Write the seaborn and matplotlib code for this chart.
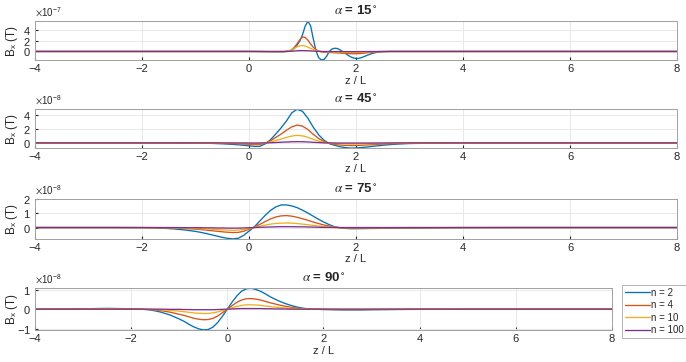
import numpy as np
import pandas as pd
import matplotlib
matplotlib.use("Agg")
import matplotlib.pyplot as plt
import seaborn as sns

# ---- data ----
labels = ["n = 2", "n = 4", "n = 10", "n = 100"]
colors = ["#0072BD", "#D95319", "#EDB120", "#7E2F8E"]
angles = ["15", "45", "75", "90"]
x_ticks = [-4, -2, 0, 2, 4, 6, 8]

# alpha = 15 deg, values x 1e-7
z1 = [-4, -2, 0, 0.2, 0.4,
      0.5, 0.55, 0.6, 0.65, 0.7, 0.75, 0.8, 0.85, 0.9, 0.95,
      1.0, 1.05, 1.1, 1.15, 1.2, 1.25, 1.3, 1.35, 1.4, 1.45,
      1.5, 1.55, 1.6, 1.65, 1.7, 1.75, 1.8, 1.85, 1.9, 1.95,
      2.0, 2.05, 2.1, 2.15, 2.2, 2.25, 2.3, 2.35, 2.4, 2.45,
      2.5, 2.55, 2.6, 2.65, 2.7, 3, 4, 8]
a15_n2 = [0, 0, 0, -0.02, -0.05,
          -0.06, -0.06, -0.06, -0.05, -0.02, 0.05, 0.2, 0.6, 1.2, 1.95,
          3.1, 4.7, 5.6, 4.8, 2.4, 0.2, -1.15, -1.55, -1.5, -0.9,
          0.0, 0.45, 0.6, 0.55, 0.3, 0.0, -0.35, -0.7, -1.0, -1.2,
          -1.3, -1.28, -1.15, -0.95, -0.75, -0.55, -0.38, -0.25, -0.15, -0.08,
          -0.04, -0.02, -0.01, 0, 0, 0, 0, 0]
a15_n4 = [0, 0, 0, -0.01, -0.03,
          -0.03, -0.03, -0.02, -0.01, 0.02, 0.1, 0.35, 0.8, 1.45, 2.2,
          2.7, 2.6, 2.1, 1.4, 0.8, 0.35, 0.08, -0.08, -0.15, -0.18,
          -0.2, -0.22, -0.24, -0.27, -0.3, -0.33, -0.36, -0.39, -0.41, -0.42,
          -0.42, -0.4, -0.36, -0.31, -0.26, -0.21, -0.16, -0.12, -0.08, -0.05,
          -0.03, -0.02, -0.01, 0, 0, 0, 0, 0]
a15_n10 = [0, 0, 0, 0, -0.01,
           -0.01, -0.01, -0.01, 0, 0.03, 0.1, 0.3, 0.58, 0.88, 1.06,
           1.1, 1.0, 0.8, 0.56, 0.36, 0.19, 0.07, -0.01, -0.06, -0.09,
           -0.11, -0.13, -0.14, -0.15, -0.16, -0.17, -0.18, -0.18, -0.18, -0.18,
           -0.17, -0.16, -0.14, -0.12, -0.1, -0.08, -0.06, -0.04, -0.03, -0.02,
           -0.01, -0.01, 0, 0, 0, 0, 0, 0]
a15_n100 = [0, 0, 0, 0, 0,
            0, 0, 0, 0, 0.01, 0.02, 0.05, 0.09, 0.13, 0.15,
            0.16, 0.15, 0.13, 0.1, 0.07, 0.04, 0.02, 0, -0.01, -0.01,
            -0.02, -0.02, -0.02, -0.02, -0.03, -0.03, -0.03, -0.03, -0.03, -0.03,
            -0.03, -0.02, -0.02, -0.02, -0.02, -0.01, -0.01, -0.01, -0.01, 0,
            0, 0, 0, 0, 0, 0, 0, 0]

# alpha = 45, 75, 90 deg, values x 1e-8
z = [-4, -3, -2.5, -2, -1.8, -1.6, -1.4, -1.2,
     -1.0, -0.9, -0.8, -0.7, -0.6, -0.5, -0.4, -0.3, -0.2, -0.1,
     0, 0.1, 0.2, 0.3, 0.4, 0.5, 0.6, 0.7, 0.8, 0.9,
     1.0, 1.1, 1.2, 1.3, 1.4, 1.5, 1.6, 1.7, 1.8, 1.9, 2.0,
     2.2, 2.4, 2.6, 2.8, 3.0, 3.5, 4, 5, 8]
a45_n2 = [0, 0, 0, 0, 0, 0, -0.01, -0.01,
          -0.02, -0.03, -0.05, -0.07, -0.1, -0.13, -0.17, -0.22, -0.28, -0.35,
          -0.42, -0.5, -0.5, -0.15, 0.45, 1.3, 2.2, 3.2, 4.4, 4.9,
          4.6, 3.6, 2.3, 1.2, 0.4, -0.1, -0.35, -0.55, -0.68, -0.75, -0.74,
          -0.6, -0.42, -0.27, -0.16, -0.09, -0.02, 0, 0, 0]
a45_n4 = [0, 0, 0, 0, 0, 0, -0.01, -0.01,
          -0.01, -0.02, -0.03, -0.04, -0.05, -0.07, -0.08, -0.1, -0.13, -0.16,
          -0.2, -0.24, -0.22, -0.06, 0.3, 0.8, 1.3, 1.85, 2.35, 2.6,
          2.45, 1.95, 1.25, 0.65, 0.2, -0.07, -0.2, -0.3, -0.36, -0.38, -0.38,
          -0.3, -0.21, -0.13, -0.08, -0.04, -0.01, 0, 0, 0]
a45_n10 = [0, 0, 0, 0, 0, 0, 0, 0,
           -0.01, -0.01, -0.01, -0.02, -0.02, -0.03, -0.03, -0.04, -0.05, -0.06,
           -0.08, -0.1, -0.09, -0.02, 0.13, 0.35, 0.57, 0.8, 1.0, 1.1,
           1.03, 0.82, 0.53, 0.27, 0.08, -0.03, -0.08, -0.12, -0.15, -0.16, -0.16,
           -0.13, -0.09, -0.05, -0.03, -0.02, -0.01, 0, 0, 0]
a45_n100 = [0, 0, 0, 0, 0, 0, 0, 0,
            0, 0, 0, 0, 0, -0.01, -0.01, -0.01, -0.01, -0.01,
            -0.01, -0.02, -0.01, 0, 0.02, 0.06, 0.1, 0.13, 0.16, 0.18,
            0.17, 0.14, 0.09, 0.05, 0.01, 0, -0.01, -0.02, -0.02, -0.02, -0.02,
            -0.02, -0.01, -0.01, 0, 0, 0, 0, 0, 0]

a75_n2 = [0, 0, 0, -0.01, -0.02, -0.05, -0.1, -0.17,
          -0.27, -0.34, -0.42, -0.51, -0.6, -0.69, -0.76, -0.8, -0.75, -0.55,
          -0.25, 0.05, 0.45, 0.85, 1.2, 1.45, 1.59, 1.59, 1.52, 1.4,
          1.22, 1.02, 0.8, 0.58, 0.38, 0.2, 0.06, -0.02, -0.06, -0.08, -0.08,
          -0.07, -0.06, -0.05, -0.04, -0.03, -0.02, -0.01, 0, 0]
a75_n4 = [0, 0, 0, 0, -0.01, -0.02, -0.04, -0.07,
          -0.11, -0.14, -0.18, -0.22, -0.26, -0.3, -0.33, -0.35, -0.34, -0.26,
          -0.12, 0.03, 0.22, 0.42, 0.6, 0.74, 0.82, 0.84, 0.8, 0.72,
          0.62, 0.51, 0.39, 0.28, 0.18, 0.1, 0.03, -0.01, -0.03, -0.04, -0.04,
          -0.035, -0.03, -0.025, -0.02, -0.015, -0.01, 0, 0, 0]
a75_n10 = [0, 0, 0, 0, 0, -0.01, -0.02, -0.04,
           -0.06, -0.08, -0.1, -0.12, -0.14, -0.16, -0.18, -0.19, -0.18, -0.14,
           -0.07, 0.01, 0.09, 0.17, 0.24, 0.29, 0.31, 0.32, 0.31, 0.28,
           0.24, 0.2, 0.15, 0.11, 0.07, 0.04, 0.01, -0.005, -0.01, -0.01, -0.01,
           -0.01, -0.01, -0.01, -0.005, 0, 0, 0, 0, 0]
a75_n100 = [0, 0, 0, 0, 0, 0, 0, -0.01,
            -0.01, -0.01, -0.02, -0.02, -0.03, -0.03, -0.04, -0.04, -0.04, -0.03,
            -0.01, 0, 0.02, 0.03, 0.04, 0.05, 0.06, 0.06, 0.06, 0.05,
            0.05, 0.04, 0.03, 0.02, 0.01, 0.01, 0, 0, 0, 0, 0,
            0, 0, 0, 0, 0, 0, 0, 0, 0]

a90_n2 = [0, 0.02, 0.04, 0.02, 0.0, -0.04, -0.14, -0.29,
          -0.5, -0.62, -0.77, -0.9, -1.0, -1.06, -1.04, -0.92, -0.68, -0.36,
          0, 0.36, 0.68, 0.92, 1.04, 1.06, 1.0, 0.9, 0.77, 0.62,
          0.5, 0.39, 0.29, 0.21, 0.14, 0.08, 0.04, 0.01, 0.0, -0.01, -0.02,
          -0.03, -0.04, -0.04, -0.04, -0.03, -0.02, -0.01, 0, 0]
a90_n4 = [0, 0.01, 0.02, 0.01, 0, -0.02, -0.07, -0.15,
          -0.26, -0.32, -0.39, -0.46, -0.51, -0.54, -0.53, -0.47, -0.35, -0.18,
          0, 0.18, 0.35, 0.47, 0.53, 0.54, 0.51, 0.46, 0.39, 0.32,
          0.26, 0.2, 0.15, 0.11, 0.07, 0.04, 0.02, 0.005, 0, -0.005, -0.01,
          -0.015, -0.02, -0.02, -0.02, -0.015, -0.01, 0, 0, 0]
a90_n10 = [0, 0, 0.01, 0, 0, -0.01, -0.03, -0.06,
           -0.1, -0.13, -0.16, -0.19, -0.21, -0.22, -0.22, -0.19, -0.14, -0.07,
           0, 0.07, 0.14, 0.19, 0.22, 0.22, 0.21, 0.19, 0.16, 0.13,
           0.1, 0.08, 0.06, 0.04, 0.03, 0.02, 0.01, 0, 0, 0, 0,
           -0.005, -0.01, -0.01, -0.01, -0.005, 0, 0, 0, 0]
a90_n100 = [0, 0, 0, 0, 0, 0, 0, -0.01,
            -0.01, -0.02, -0.02, -0.03, -0.03, -0.03, -0.03, -0.03, -0.02, -0.01,
            0, 0.01, 0.02, 0.03, 0.03, 0.03, 0.03, 0.03, 0.02, 0.02,
            0.01, 0.01, 0.01, 0, 0, 0, 0, 0, 0, 0, 0,
            0, 0, 0, 0, 0, 0, 0, 0, 0]

panels = [
    (z1, [a15_n2, a15_n4, a15_n10, a15_n100], 1e-7, [0, 2, 4], (-1.6, 5.65)),
    (z, [a45_n2, a45_n4, a45_n10, a45_n100], 1e-8, [0, 2, 4], (-0.75, 4.95)),
    (z, [a75_n2, a75_n4, a75_n10, a75_n100], 1e-8, [0, 1, 2], (-0.8, 2.0)),
    (z, [a90_n2, a90_n4, a90_n10, a90_n100], 1e-8, [-1, 0, 1], (-1.07, 1.07)),
]

# ---- plot ----
sns.set_style("whitegrid")
plt.rcParams["font.family"] = ["Liberation Sans", "DejaVu Sans"]
plt.rcParams["mathtext.fontset"] = "stix"

fig = plt.figure(figsize=(6.86, 3.62), dpi=100)
rects = [
    [0.051, 0.834, 0.936, 0.108],
    [0.051, 0.591, 0.936, 0.108],
    [0.051, 0.340, 0.936, 0.110],
    [0.051, 0.088, 0.841, 0.116],
]

for i, (zz, series, scale, yt, yl) in enumerate(panels):
    ax = fig.add_axes(rects[i])
    rows = []
    for lab, vals in zip(labels, series):
        assert len(vals) == len(zz)
        for zv, v in zip(zz, vals):
            rows.append((zv, v * scale, lab))
    df = pd.DataFrame(rows, columns=["z", "Bx", "n"])
    sns.lineplot(data=df, x="z", y="Bx", hue="n", hue_order=labels,
                 palette=colors, estimator=None, sort=False, linewidth=0.95,
                 ax=ax, legend=(i == 3))
    ax.set_xlim(-4, 8)
    ax.set_xticks(x_ticks)
    ax.set_ylim(yl[0] * scale, yl[1] * scale)
    ax.set_yticks([t * scale for t in yt])
    ax.ticklabel_format(axis="y", style="sci", scilimits=(0, 0), useMathText=True)
    ax.yaxis.get_offset_text().set_fontsize(7)
    ax.yaxis.get_offset_text().set_color("#555555")
    ax.tick_params(labelsize=8, colors="#262626", direction="in", length=2.5,
                   pad=3, left=True, bottom=True)
    ax.grid(True, color="#e8e8e8", linewidth=0.7)
    for s in ax.spines.values():
        s.set_color("#a0a0a0")
        s.set_linewidth(0.7)
    ax.set_xlabel("z / L", fontsize=8, color="#262626", labelpad=1)
    ax.set_ylabel(r"B$_\mathregular{x}$ (T)", fontsize=8.5, color="#262626")
    # y label right edge ~20 px from the figure's left edge
    ax_w = rects[i][2] * fig.get_figwidth() * fig.dpi
    ax.yaxis.set_label_coords((20 - rects[i][0] * 686) / ax_w, 0.5)
    ax.set_title(r"$\alpha$ = " + angles[i] + r"$^\circ$", fontsize=9.5,
                 fontweight="bold", pad=5)
    if i == 3:
        leg = ax.legend(loc="lower left", bbox_to_anchor=(0.907, 0.066),
                        bbox_transform=fig.transFigure, fontsize=7,
                        frameon=True, fancybox=False, handlelength=2.6,
                        handletextpad=0.1, labelspacing=0.25, borderpad=0.3,
                        borderaxespad=0)
        leg.get_frame().set_edgecolor("#a0a0a0")
        leg.get_frame().set_linewidth(0.7)

fig.savefig("out.png", dpi=100)
